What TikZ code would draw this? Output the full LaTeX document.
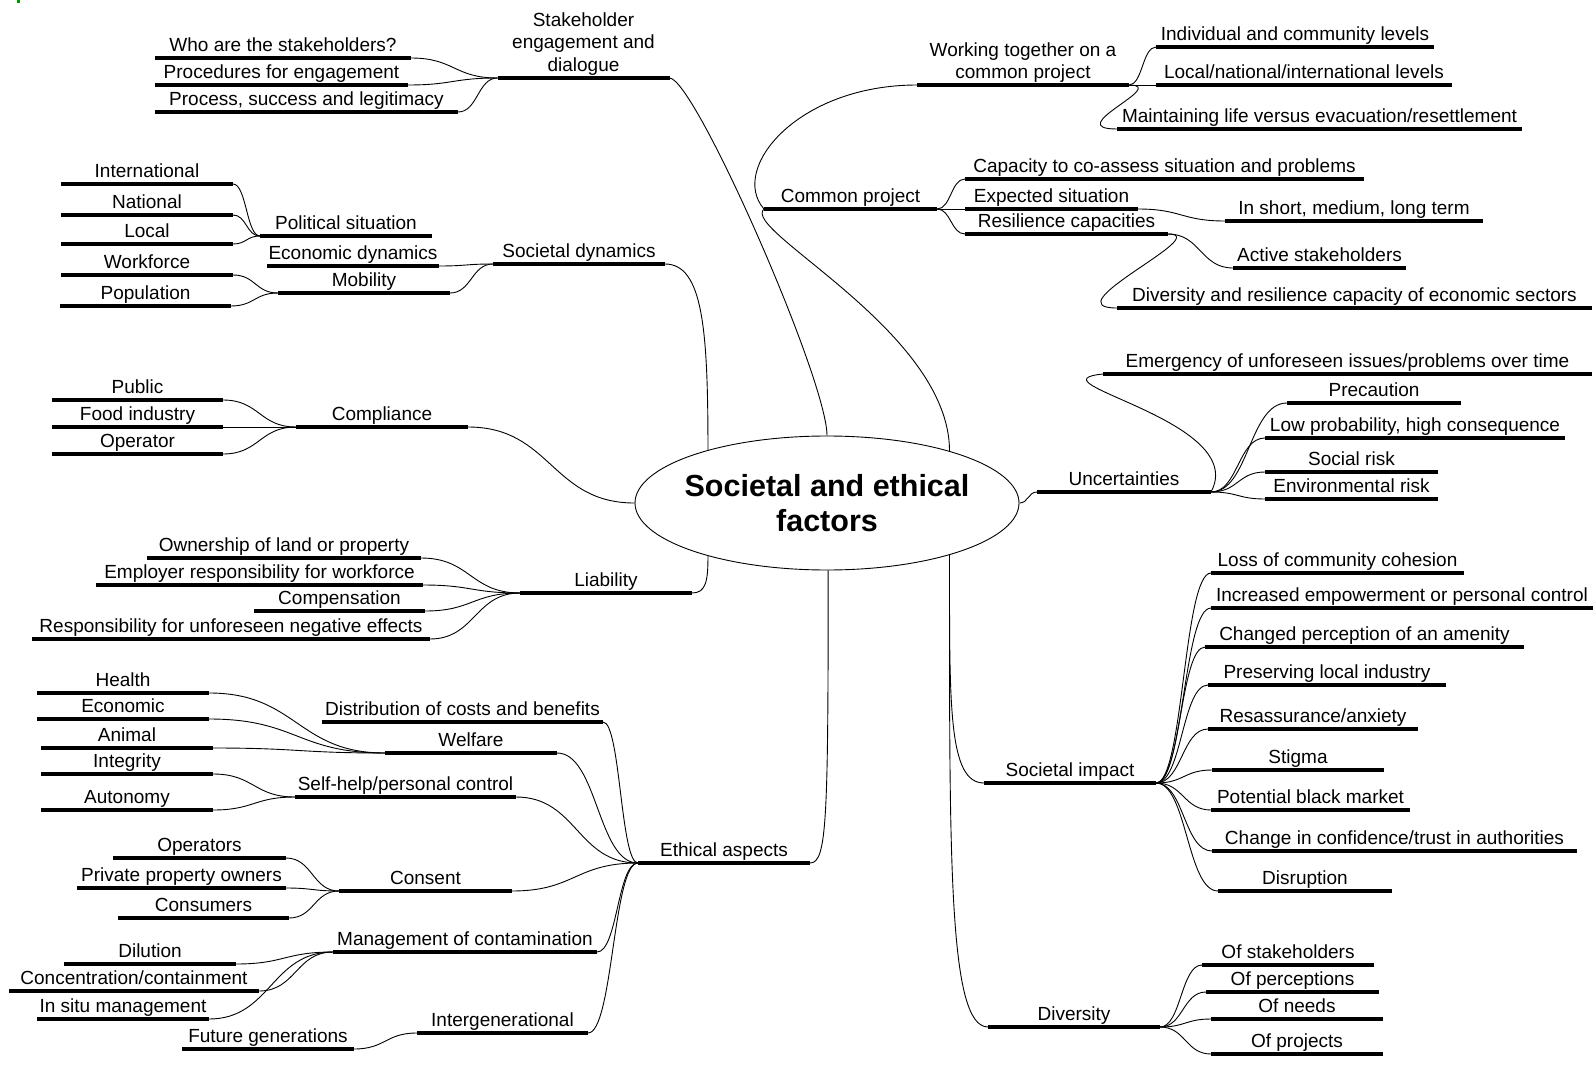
\documentclass[tikz,border=0pt]{standalone}
\usepackage{fontspec}
\setmainfont{Liberation Sans}
\usepackage{tikz}
\usetikzlibrary{shapes.geometric,
				calc}

\tikzset{
	topic/.style={anchor=south, inner xsep=0pt, inner ysep=2pt, outer sep=0pt, text depth=4.5pt, minimum width=#1},
	topic/.default=172,
	bar/.style={line width=4.5pt},
	link/.style={to path={let \p1=(\tikztostart), \p2=(\tikztotarget) in
		.. controls ({(\x1+\x2)/2},\y1) and ({(\x1+\x2)/2},\y2) .. (\tikztotarget)}},
	core/.style={ellipse, draw, minimum width=384, minimum height=134, inner xsep=-20pt, inner ysep=0pt,
		align=center, font=\fontsize{30.5}{35}\selectfont\bfseries}
}

\begin{document}
\begin{tikzpicture}[x=1pt,y=-1pt,line width=0.9pt,font=\fontsize{19}{22.5}\selectfont]
	\useasboundingbox (0,0) rectangle (1596,1065);
	\fill[green!60!black] (17,0) rectangle (20,3);

	\node[core] (core) at (827,503) {Societal and ethical\\factors};

	% left side
	\node[topic, align=center] (stake) at (583.5,78) {Stakeholder\\engagement and\\dialogue};
	\node[topic=256] (who) at (283,58) {Who are the stakeholders?};
	\node[topic=253] (proc) at (281.5,85) {Procedures for engagement};
	\node[topic=303] (legit) at (306.5,112) {Process, success and legitimacy};

	\node[topic] (sdyn) at (579,264) {Societal dynamics};
	\node[topic] (polit) at (346,236) {Political situation};
	\node[topic] (econ) at (353,266) {Economic dynamics};
	\node[topic] (mobil) at (364,293) {Mobility};
	\node[topic] (intl) at (147,184) {International};
	\node[topic] (natl) at (147,215) {National};
	\node[topic] (local) at (147,244) {Local};
	\node[topic] (workf) at (147,275) {Workforce};
	\node[topic=171] (popul) at (145.5,306) {Population};

	\node[topic] (compl) at (382,427) {Compliance};
	\node[topic=171] (public) at (137.5,400) {Public};
	\node[topic=171] (food) at (137.5,427) {Food industry};
	\node[topic=171] (oper) at (137.5,454) {Operator};

	\node[topic] (liab) at (606,593) {Liability};
	\node[topic=274] (owner) at (284,558) {Ownership of land or property};
	\node[topic=327] (employ) at (259.5,585) {Employer responsibility for workforce};
	\node[topic=171] (compen) at (339.5,611) {Compensation};
	\node[topic=398] (respons) at (231,639) {Responsibility for unforeseen negative effects};

	\node[topic] (ethic) at (724,863) {Ethical aspects};
	\node[topic=281] (distr) at (462.5,722) {Distribution of costs and benefits};
	\node[topic] (welf) at (471,753) {Welfare};
	\node[topic=221] (selfh) at (405.5,797) {Self-help/personal control};
	\node[topic=173] (consent) at (425.5,891) {Consent};
	\node[topic=264] (manag) at (465,952) {Management of contamination};
	\node[topic=171] (intergen) at (502.5,1033) {Intergenerational};
	\node[topic] (health) at (123,693) {Health};
	\node[topic] (econw) at (123,719) {Economic};
	\node[topic] (animal) at (127,748) {Animal};
	\node[topic] (integ) at (127,774) {Integrity};
	\node[topic] (auton) at (127,810) {Autonomy};
	\node[topic=173] (operat) at (199.5,858) {Operators};
	\node[topic=209] (priv) at (181.5,888) {Private property owners};
	\node[topic=171] (consum) at (203.5,918) {Consumers};
	\node[topic] (dilut) at (150,964) {Dilution};
	\node[topic=250] (concen) at (134,991) {Concentration/containment};
	\node[topic] (insitu) at (123,1019) {In situ management};
	\node[topic] (future) at (268,1049) {Future generations};

	% right side
	\node[topic=173] (cp) at (850.5,209) {Common project};
	\node[topic=212, align=center] (work) at (1023,85) {Working together on a\\common project};
	\node[topic=278] (indiv) at (1295,47) {Individual and community levels};
	\node[topic=296] (lnat) at (1304,85) {Local/national/international levels};
	\node[topic=405] (maint) at (1319.5,129) {Maintaining life versus evacuation/resettlement};
	\node[topic=399] (capac) at (1164.5,179) {Capacity to co-assess situation and problems};
	\node[topic=173] (expect) at (1051.5,209) {Expected situation};
	\node[topic=203] (resil) at (1066.5,234) {Resilience capacities};
	\node[topic=258] (term) at (1354,221) {In short, medium, long term};
	\node[topic=173] (active) at (1319.5,268) {Active stakeholders};
	\node[topic=475] (divres) at (1354.5,308) {Diversity and resilience capacity of economic sectors};

	\node[topic=174] (unc) at (1124,492) {Uncertainties};
	\node[topic=489] (emerg) at (1347.5,374) {Emergency of unforeseen issues/problems over time};
	\node[topic=174] (precau) at (1374,403) {Precaution};
	\node[topic=300] (lowp) at (1415,438) {Low probability, high consequence};
	\node[topic=173] (social) at (1351.5,472) {Social risk};
	\node[topic=173] (envir) at (1351.5,499) {Environmental risk};

	\node[topic] (simp) at (1070,783) {Societal impact};
	\node[topic=253] (loss) at (1337.5,573) {Loss of community cohesion};
	\node[topic=382] (empow) at (1402,608) {Increased empowerment or personal control};
	\node[topic=319] (amen) at (1364.5,647) {Changed perception of an amenity};
	\node[topic=238] (pres) at (1327,685) {Preserving local industry};
	\node[topic=210] (reass) at (1313,729) {Resassurance/anxiety};
	\node[topic] (stigma) at (1298,770) {Stigma};
	\node[topic=199] (black) at (1310.5,810) {Potential black market};
	\node[topic=365] (trust) at (1394.5,851) {Change in confidence/trust in authorities};
	\node[topic=174] (disrup) at (1305,891) {Disruption};

	\node[topic] (divers) at (1074,1027) {Diversity};
	\node[topic] (ofst) at (1288,965) {Of stakeholders};
	\node[topic=173] (ofper) at (1292.5,992) {Of perceptions};
	\node[topic] (ofneed) at (1297,1019) {Of needs};
	\node[topic] (ofproj) at (1297,1054) {Of projects};

	% bars under the texts
	\foreach \n in {stake,who,proc,legit,sdyn,polit,econ,mobil,intl,natl,local,workf,popul,
		compl,public,food,oper,liab,owner,employ,compen,respons,
		ethic,distr,welf,selfh,consent,manag,intergen,health,econw,animal,integ,auton,
		operat,priv,consum,dilut,concen,insitu,future,
		cp,work,indiv,lnat,maint,capac,expect,resil,term,active,divres,
		unc,emerg,precau,lowp,social,envir,
		simp,loss,empow,amen,pres,reass,stigma,black,trust,disrup,
		divers,ofst,ofper,ofneed,ofproj}
		\draw[bar] (\n.south west) -- (\n.south east);

	% branches
	\foreach \a/\b in {who/stake,proc/stake,legit/stake,
		intl/polit,natl/polit,local/polit,workf/mobil,popul/mobil,econ/sdyn,mobil/sdyn,
		public/compl,food/compl,oper/compl,
		owner/liab,employ/liab,compen/liab,respons/liab,
		health/welf,econw/welf,animal/welf,integ/selfh,auton/selfh,
		operat/consent,priv/consent,consum/consent,dilut/manag,concen/manag,insitu/manag,future/intergen,
		distr/ethic,welf/ethic,selfh/ethic,consent/ethic,manag/ethic,intergen/ethic,
		work/indiv,work/lnat,cp/capac,cp/expect,cp/resil,expect/term,resil/active,
		unc/precau,unc/lowp,unc/social,unc/envir,
		simp/loss,simp/empow,simp/amen,simp/pres,simp/reass,simp/stigma,simp/black,simp/trust,simp/disrup,
		divers/ofst,divers/ofper,divers/ofneed,divers/ofproj}
		\draw[link] (\a.south east) to (\b.south west);

	\draw[link] (compl.south east) to (core.180);
	\draw[link] (core.0) to (unc.south west);
	\draw (stake.south east) .. controls +(25,0) and +(0,-56) .. (core.90);
	\draw (sdyn.south east) .. controls +(38,0) and +(0,-120) .. (core.156);
	\draw (liab.south east) .. controls +(14,0) and +(0,25) .. (core.204);
	\draw (ethic.south east) .. controls +(17,0) and +(0,250) .. (core.271);
	\draw (core.23) .. controls +(0,-120) and +(-24,21) .. (cp.south west);
	\draw (cp.south west) .. controls +(-35,-40) and +(-120,0) .. (work.south west);
	\draw (core.337) .. controls +(0,150) and +(-36,0) .. (simp.south west);
	\draw (core.337) .. controls +(0,300) and +(-40,0) .. (divers.south west);
	\draw (work.south east) .. controls +(41,0) and +(-57,0) .. (maint.south west);
	\draw (resil.south east) .. controls +(47,0) and +(-67,0) .. (divres.south west);
	\draw (unc.south east) .. controls +(39,-72) and +(-78,8) .. (emerg.south west);
\end{tikzpicture}
\end{document}
